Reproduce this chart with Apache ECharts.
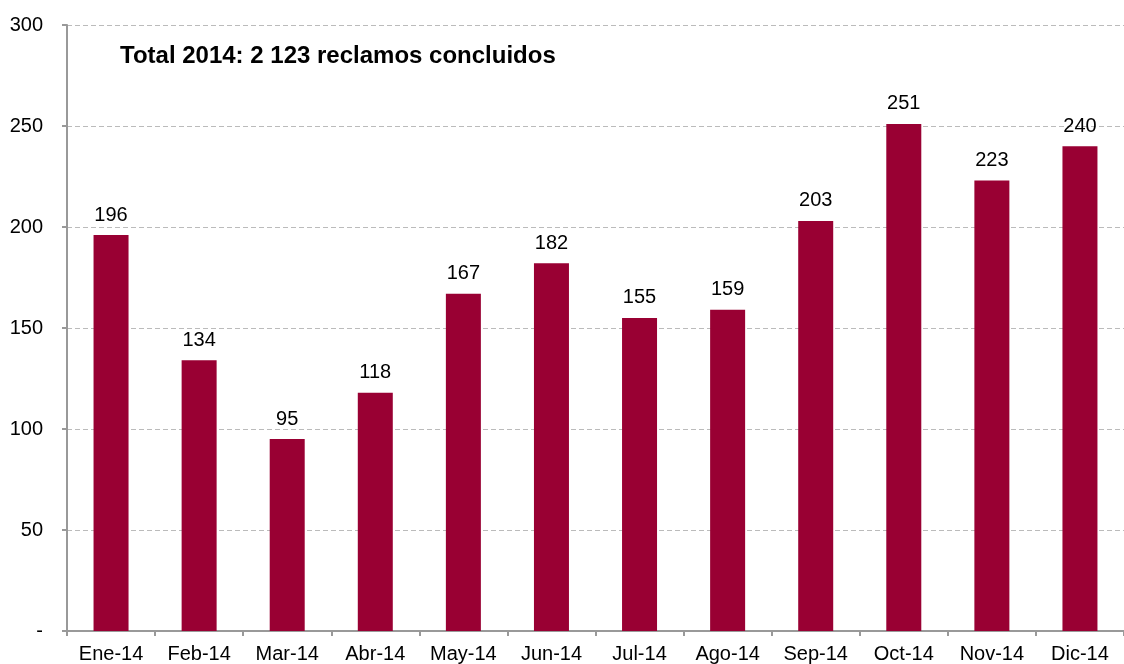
<!DOCTYPE html>
<html>
<head>
<meta charset="utf-8">
<script src="https://cdn.jsdelivr.net/npm/echarts@6/dist/echarts.min.js"></script>
<style>
  html, body { margin: 0; padding: 0; background: #fff; }
  #chart { width: 1124px; height: 664px; }
</style>
</head>
<body>
<div id="chart"></div>
<script>
const months = ['Ene-14', 'Feb-14', 'Mar-14', 'Abr-14', 'May-14', 'Jun-14',
                'Jul-14', 'Ago-14', 'Sep-14', 'Oct-14', 'Nov-14', 'Dic-14'];
const reclamos = [196, 134, 95, 118, 167, 182, 155, 159, 203, 251, 223, 240];
const titleText = 'Total 2014: 2 123 reclamos concluidos';

const chart = echarts.init(document.getElementById('chart'));
const font = 'Liberation Sans, Arial, sans-serif';

chart.setOption({
  animation: false,
  textStyle: { fontFamily: font },
  title: {
    text: titleText,
    left: 115,
    top: 39,
    textStyle: { fontSize: 24, fontWeight: 'bold', color: '#000', fontFamily: font }
  },
  grid: { left: 67, right: -3, top: 25, bottom: 29, containLabel: false },
  xAxis: {
    type: 'category',
    data: months,
    axisLine: { lineStyle: { color: '#999', width: 2 } },
    axisTick: { show: true, length: 5, lineStyle: { color: '#999', width: 2 } },
    axisLabel: { color: '#000', fontSize: 20, margin: 13, fontFamily: font }
  },
  yAxis: {
    type: 'value',
    min: 0,
    max: 300,
    interval: 50,
    axisLine: { show: true, lineStyle: { color: '#999', width: 2 } },
    axisTick: { show: true, length: 5, lineStyle: { color: '#999', width: 2 } },
    axisLabel: {
      color: '#000', fontSize: 20, margin: 24, fontFamily: font,
      formatter: v => (v === 0 ? '-' : v)
    },
    splitLine: { lineStyle: { color: '#bbb', type: [5, 3], width: 1 } }
  },
  series: [{
    type: 'bar',
    data: reclamos,
    barWidth: 35,
    itemStyle: { color: '#990033' },
    label: {
      show: true,
      position: 'top',
      distance: 10,
      color: '#000',
      fontSize: 20,
      fontFamily: font
    }
  }]
});
</script>
</body>
</html>
